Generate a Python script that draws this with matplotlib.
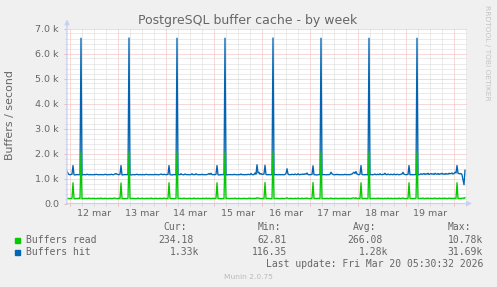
import numpy as np
import matplotlib.pyplot as plt
from matplotlib.patches import Rectangle

W, H = 497, 287

# Buffers hit / read, em milhares por segundo, um ponto a cada 30 min
# (primeiro ponto: 11 mar 22:30)
hit_11 = [1.29, 1.21, 1.16]
read_11 = [0.21, 0.20, 0.20]

hit_12 = [1.15, 1.16, 1.17, 1.52, 1.15, 1.14, 1.15, 1.16,
          1.15, 1.15, 1.16, 6.61, 1.14, 1.15, 1.16, 1.15,
          1.15, 1.17, 1.16, 1.15, 1.15, 1.16, 1.15, 1.15,
          1.16, 1.15, 1.17, 1.16, 1.15, 1.15, 1.16, 1.15,
          1.16, 1.15, 1.15, 1.17, 1.16, 1.15, 1.15, 1.16,
          1.15, 1.17, 1.16, 1.15, 1.16, 1.18, 1.20, 1.17]
read_12 = [0.20, 0.20, 0.21, 0.83, 0.20, 0.19, 0.20, 0.20,
           0.20, 0.21, 0.20, 2.05, 0.19, 0.20, 0.20, 0.20,
           0.21, 0.20, 0.20, 0.22, 0.20, 0.20, 0.20, 0.21,
           0.20, 0.20, 0.20, 0.20, 0.21, 0.20, 0.20, 0.22,
           0.20, 0.20, 0.20, 0.21, 0.20, 0.20, 0.20, 0.20,
           0.21, 0.20, 0.20, 0.20, 0.22, 0.21, 0.20, 0.20]

hit_13 = [1.16, 1.15, 1.17, 1.52, 1.14, 1.15, 1.15, 1.16,
          1.15, 1.16, 1.15, 6.62, 1.15, 1.14, 1.15, 1.16,
          1.15, 1.15, 1.16, 1.17, 1.15, 1.15, 1.16, 1.15,
          1.15, 1.16, 1.15, 1.15, 1.17, 1.16, 1.15, 1.15,
          1.16, 1.15, 1.16, 1.15, 1.15, 1.17, 1.15, 1.16,
          1.15, 1.15, 1.16, 1.18, 1.16, 1.15, 1.17, 1.16]
read_13 = [0.20, 0.21, 0.20, 0.82, 0.20, 0.20, 0.19, 0.20,
           0.20, 0.20, 0.21, 2.05, 0.20, 0.20, 0.20, 0.21,
           0.20, 0.20, 0.20, 0.20, 0.22, 0.20, 0.20, 0.20,
           0.21, 0.20, 0.20, 0.20, 0.20, 0.21, 0.20, 0.20,
           0.20, 0.22, 0.20, 0.20, 0.20, 0.20, 0.21, 0.20,
           0.20, 0.20, 0.21, 0.20, 0.20, 0.20, 0.22, 0.20]

hit_14 = [1.15, 1.16, 1.16, 1.52, 1.15, 1.15, 1.14, 1.15,
          1.16, 1.15, 1.15, 6.61, 1.15, 1.16, 1.15, 1.19,
          1.16, 1.15, 1.15, 1.18, 1.16, 1.15, 1.16, 1.15,
          1.15, 1.16, 1.19, 1.15, 1.16, 1.15, 1.19, 1.16,
          1.15, 1.15, 1.16, 1.15, 1.17, 1.15, 1.16, 1.15,
          1.15, 1.16, 1.17, 1.20, 1.16, 1.21, 1.16, 1.15]
read_14 = [0.20, 0.20, 0.20, 0.83, 0.21, 0.20, 0.20, 0.20,
           0.19, 0.20, 0.20, 2.06, 0.20, 0.20, 0.21, 0.20,
           0.20, 0.20, 0.22, 0.20, 0.20, 0.20, 0.20, 0.21,
           0.20, 0.20, 0.20, 0.20, 0.22, 0.20, 0.20, 0.20,
           0.21, 0.20, 0.20, 0.20, 0.20, 0.21, 0.20, 0.20,
           0.22, 0.20, 0.20, 0.21, 0.20, 0.20, 0.20, 0.21]

hit_15 = [1.16, 1.15, 1.17, 1.52, 1.15, 1.14, 1.15, 1.15,
          1.16, 1.15, 1.16, 6.61, 1.14, 1.15, 1.15, 1.16,
          1.15, 1.16, 1.15, 1.15, 1.17, 1.15, 1.16, 1.15,
          1.15, 1.16, 1.15, 1.18, 1.15, 1.16, 1.15, 1.15,
          1.16, 1.15, 1.17, 1.16, 1.15, 1.20, 1.16, 1.15,
          1.16, 1.22, 1.17, 1.55, 1.22, 1.25, 1.17, 1.20]
read_15 = [0.20, 0.20, 0.21, 0.83, 0.20, 0.20, 0.20, 0.19,
           0.20, 0.20, 0.20, 2.05, 0.20, 0.21, 0.20, 0.20,
           0.20, 0.20, 0.21, 0.20, 0.20, 0.22, 0.20, 0.20,
           0.20, 0.21, 0.20, 0.20, 0.20, 0.20, 0.21, 0.20,
           0.20, 0.20, 0.20, 0.22, 0.20, 0.20, 0.21, 0.20,
           0.20, 0.21, 0.20, 0.23, 0.21, 0.22, 0.20, 0.20]

hit_16 = [1.16, 1.17, 1.18, 1.53, 1.16, 1.15, 1.15, 1.16,
          1.15, 1.15, 1.16, 6.62, 1.15, 1.15, 1.16, 1.15,
          1.15, 1.16, 1.15, 1.15, 1.16, 1.15, 1.15, 1.16,
          1.20, 1.39, 1.18, 1.15, 1.16, 1.15, 1.17, 1.16,
          1.15, 1.18, 1.16, 1.15, 1.19, 1.16, 1.15, 1.17,
          1.16, 1.18, 1.16, 1.19, 1.17, 1.22, 1.16, 1.15]
read_16 = [0.20, 0.20, 0.20, 0.84, 0.20, 0.20, 0.21, 0.20,
           0.20, 0.19, 0.20, 2.06, 0.20, 0.20, 0.20, 0.21,
           0.20, 0.20, 0.20, 0.20, 0.21, 0.20, 0.20, 0.20,
           0.21, 0.23, 0.20, 0.20, 0.20, 0.21, 0.20, 0.20,
           0.20, 0.21, 0.20, 0.20, 0.22, 0.20, 0.20, 0.20,
           0.21, 0.20, 0.20, 0.21, 0.20, 0.22, 0.20, 0.20]

hit_17 = [1.15, 1.16, 1.16, 1.51, 1.15, 1.15, 1.15, 1.14,
          1.15, 1.16, 1.15, 6.61, 1.15, 1.15, 1.16, 1.15,
          1.15, 1.15, 1.16, 1.15, 1.17, 1.25, 1.19, 1.16,
          1.15, 1.16, 1.15, 1.17, 1.15, 1.16, 1.15, 1.15,
          1.16, 1.15, 1.15, 1.17, 1.15, 1.16, 1.15, 1.16,
          1.15, 1.17, 1.18, 1.22, 1.25, 1.20, 1.28, 1.18]
read_17 = [0.20, 0.20, 0.21, 0.84, 0.20, 0.20, 0.20, 0.20,
           0.21, 0.20, 0.20, 2.05, 0.20, 0.20, 0.20, 0.20,
           0.20, 0.21, 0.20, 0.20, 0.20, 0.22, 0.20, 0.20,
           0.20, 0.20, 0.21, 0.20, 0.20, 0.20, 0.20, 0.21,
           0.20, 0.20, 0.22, 0.20, 0.20, 0.20, 0.21, 0.20,
           0.20, 0.20, 0.21, 0.22, 0.22, 0.20, 0.23, 0.20]

hit_18 = [1.16, 1.15, 1.17, 1.52, 1.16, 1.15, 1.15, 1.15,
          1.16, 1.15, 1.15, 6.61, 1.15, 1.16, 1.15, 1.15,
          1.16, 1.18, 1.15, 1.16, 1.17, 1.15, 1.19, 1.16,
          1.15, 1.17, 1.16, 1.21, 1.16, 1.15, 1.18, 1.16,
          1.15, 1.17, 1.16, 1.15, 1.18, 1.16, 1.15, 1.17,
          1.16, 1.15, 1.16, 1.17, 1.18, 1.25, 1.17, 1.16]
read_18 = [0.20, 0.21, 0.20, 0.83, 0.20, 0.20, 0.20, 0.21,
           0.20, 0.20, 0.20, 2.05, 0.19, 0.20, 0.20, 0.20,
           0.21, 0.20, 0.20, 0.20, 0.22, 0.20, 0.20, 0.21,
           0.20, 0.20, 0.20, 0.21, 0.20, 0.20, 0.22, 0.20,
           0.20, 0.21, 0.20, 0.20, 0.20, 0.21, 0.20, 0.20,
           0.20, 0.22, 0.20, 0.20, 0.21, 0.22, 0.20, 0.20]

hit_19 = [1.15, 1.16, 1.16, 1.52, 1.15, 1.15, 1.16, 1.15,
          1.15, 1.16, 1.15, 6.61, 1.15, 1.15, 1.17, 1.19,
          1.16, 1.18, 1.20, 1.16, 1.19, 1.17, 1.21, 1.16,
          1.18, 1.20, 1.17, 1.19, 1.16, 1.21, 1.18, 1.17,
          1.20, 1.16, 1.19, 1.18, 1.21, 1.17, 1.19, 1.16,
          1.20, 1.18, 1.17, 1.21, 1.19, 1.20, 1.22, 1.18]
read_19 = [0.20, 0.20, 0.20, 0.83, 0.21, 0.20, 0.20, 0.20,
           0.20, 0.20, 0.21, 2.05, 0.20, 0.20, 0.20, 0.21,
           0.20, 0.22, 0.20, 0.20, 0.21, 0.20, 0.22, 0.20,
           0.20, 0.21, 0.20, 0.20, 0.22, 0.20, 0.21, 0.20,
           0.20, 0.22, 0.20, 0.21, 0.20, 0.20, 0.22, 0.20,
           0.21, 0.20, 0.20, 0.22, 0.20, 0.21, 0.20, 0.21]

hit_20 = [1.20, 1.25, 1.22, 1.52, 1.21, 1.20, 1.19, 1.20,
          1.15, 0.95, 0.75, 1.33]
read_20 = [0.20, 0.21, 0.20, 0.83, 0.20, 0.21, 0.20, 0.20,
           0.21, 0.22, 0.20, 0.234]

day_labels = ['12 mar', '13 mar', '14 mar', '15 mar',
              '16 mar', '17 mar', '18 mar', '19 mar']
ytick_labels = ['0.0', '1.0 k', '2.0 k', '3.0 k', '4.0 k', '5.0 k', '6.0 k', '7.0 k']

series_names = ['Buffers read', 'Buffers hit']
series_colors = ['#00CC00', '#0066B3']
col_headers = ['Cur:', 'Min:', 'Avg:', 'Max:']
stats_read = ['234.18', '62.81', '266.08', '10.78k']
stats_hit = ['1.33k', '116.35', '1.28k', '31.69k']
last_update = 'Last update: Fri Mar 20 05:30:32 2026'

hit = np.array(hit_11 + hit_12 + hit_13 + hit_14 + hit_15 + hit_16 +
               hit_17 + hit_18 + hit_19 + hit_20)
read = np.array(read_11 + read_12 + read_13 + read_14 + read_15 + read_16 +
                read_17 + read_18 + read_19 + read_20)
# horas desde 12 mar 00:00
hours = (np.arange(len(hit)) - len(hit_11)) * 0.5

TXT = '#666666'
MGRID = '#F2B4B4'
GRID = '#D8D8D8'
AXIS = '#C8D0F4'


def fx(px):
    return px / W


def fy(py):
    return 1 - py / H


fig = plt.figure(figsize=(W / 100, H / 100), dpi=100, facecolor='#F0F0F0')
ax = fig.add_axes([fx(67), fy(203.5), 400 / W, 175 / H])
ax.set_facecolor('white')

ax.plot(hours, hit, color=series_colors[1], lw=0.95, zorder=3)
ax.plot(hours, read, color=series_colors[0], lw=0.95, zorder=4)

ax.set_xlim(-1.5, 198.5)
ax.set_ylim(0, 7)

ax.set_xticks(np.arange(0, 198.5, 24))
ax.set_xticks(np.arange(0, 198.5, 6), minor=True)
ax.set_yticks(np.arange(0, 7.01, 1), ytick_labels)
ax.set_yticks(np.arange(0, 7.01, 0.2), minor=True)

ax.grid(which='minor', color=GRID, linestyle=(0, (1, 1)), linewidth=0.72)
ax.grid(which='major', color=MGRID, linestyle=(0, (1, 1)), linewidth=0.72)
ax.set_axisbelow(True)

ax.tick_params(axis='x', which='both', labelbottom=False, direction='out', length=1.6, width=0.72)
ax.tick_params(axis='x', which='major', color=MGRID)
ax.tick_params(axis='x', which='minor', color=GRID)
ax.tick_params(axis='y', which='major', length=2.2, width=0.72, color=MGRID,
               labelsize=6.8, labelcolor=TXT, pad=3.6)
ax.tick_params(axis='y', which='minor', length=1.6, width=0.72, color=GRID)

for s in ax.spines.values():
    s.set_visible(False)

# axes com setas, no estilo rrdtool
ax.annotate('', xy=(1 + 5 / 400, 0), xytext=(-1 / 400, 0), xycoords='axes fraction',
            arrowprops=dict(arrowstyle='-|>', color=AXIS, lw=0.9, mutation_scale=7,
                            shrinkA=0, shrinkB=0), zorder=5)
ax.annotate('', xy=(0, 1 + 9 / 175), xytext=(0, -1 / 175), xycoords='axes fraction',
            arrowprops=dict(arrowstyle='-|>', color=AXIS, lw=0.9, mutation_scale=7,
                            shrinkA=0, shrinkB=0), zorder=5)

# rótulos dos dias ao meio-dia
for i, lab in enumerate(day_labels):
    ax.text(12 + 24 * i, -13 / 175, lab, transform=ax.get_xaxis_transform(),
            ha='center', va='baseline', fontsize=6.8, color=TXT)

fig.text(fx(248), fy(24), 'PostgreSQL buffer cache - by week', ha='center',
         va='baseline', fontsize=9, color=TXT)
fig.text(fx(10.5), fy(115.5), 'Buffers / second', rotation=90, ha='center',
         va='center', fontsize=7.9, color=TXT)
fig.text(fx(487.5), fy(53), 'RRDTOOL / TOBI OETIKER', rotation=270, ha='center',
         va='center', fontsize=5.4, color='#C4C4C4')

# legenda
mono = dict(family='DejaVu Sans Mono', fontsize=7, color=TXT, va='baseline')
char_w = 5.86
col_right = [199, 293, 388, 483]
for j, h in enumerate(col_headers):
    fig.text(fx(col_right[j] - 2 * char_w), fy(230.5), h, ha='right', **mono)

for r, (name, stats) in enumerate(zip(series_names, [stats_read, stats_hit])):
    yb = 243 + 12 * r
    fig.add_artist(Rectangle((fx(14.5), fy(yb)), 5.5 / W, 5.5 / H,
                             transform=fig.transFigure, color=series_colors[r]))
    fig.text(fx(26.5), fy(yb), name, ha='left', **mono)
    for j, v in enumerate(stats):
        xr = col_right[j] if v.endswith('k') else col_right[j] - char_w
        fig.text(fx(xr), fy(yb), v, ha='right', **mono)

fig.text(fx(483), fy(267), last_update, ha='right', **mono)
fig.text(fx(248), fy(279), 'Munin 2.0.75', ha='center', va='baseline',
         fontsize=5.4, color='#BBBBBB')

fig.savefig('out.png', dpi=100, facecolor=fig.get_facecolor())
